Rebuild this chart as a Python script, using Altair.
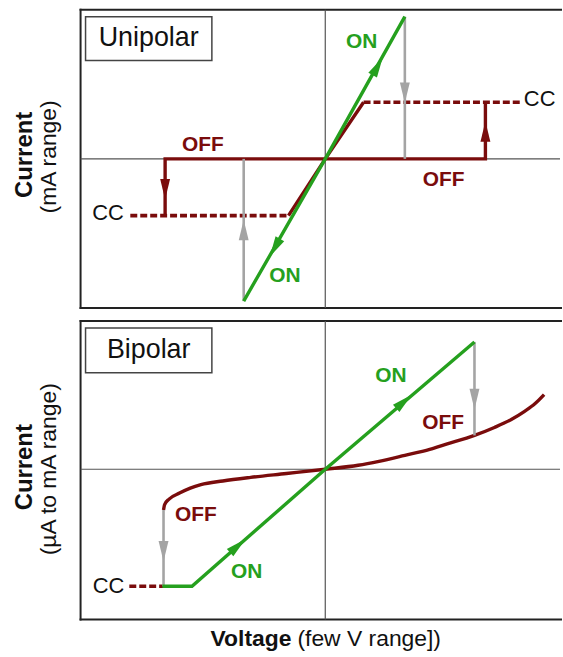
import altair as alt
import pandas as pd

# ---------------- data (schematic units: V on x, current on y) ----------------
X_DOMAIN = [-2.46, 2.36]
Y_DOMAIN_TOP = [-1.5, 1.5]
Y_DOMAIN_BOT = [-1.51, 1.49]

# Unipolar panel
uni_on_x = [-0.82, 0.0, 0.80]
uni_on_y = [-1.43, 0.0, 1.43]
uni_off_x = [-1.61, -1.61, 1.61, 1.61]
uni_off_y = [-0.57, 0.0, 0.0, 0.57]
uni_slant_x = [-0.37, 0.0, 0.385]
uni_slant_y = [-0.57, 0.0, 0.57]
uni_cc_hi_x = [0.385, 1.96]
uni_cc_lo_x = [-1.96, -0.37]
uni_cc_level = 0.57
uni_gray_x = [0.80, -0.82]
uni_gray_y_from = [1.43, -1.43]
uni_gray_y_to = [0.0, 0.0]
uni_arrow_x = [0.52, -0.50, -1.61, 1.61, 0.80, -0.82]
uni_arrow_y = [0.92, -0.88, -0.29, 0.26, 0.68, -0.73]
uni_arrow_dir = [29.5, 209.5, 180, 0, 180, 0]
uni_arrow_kind = ["on", "on", "off", "off", "gray", "gray"]
uni_label_text = ["ON", "ON", "OFF", "OFF", "CC", "CC"]
uni_label_x = [0.365, -0.405, -1.23, 1.19, -2.185, 2.155]
uni_label_y = [1.17, -1.18, 0.14, -0.21, -0.545, 0.60]
uni_label_kind = ["on", "on", "off", "off", "cc", "cc"]
uni_box = {"x1": -2.41, "x2": -1.14, "y1": 0.99, "y2": 1.43}
uni_name = "Unipolar"
uni_ytitle = ["Current", "(mA range)"]

# Bipolar panel
bi_on_x = [-1.637, -1.34, 0.0, 1.50]
bi_on_y = [-1.177, -1.177, 0.0, 1.28]
bi_off_x = [-1.626, -1.615, -1.57, -1.465, -1.357, -1.25, -1.03, -0.75, -0.39, 0.0,
            0.33, 0.54, 0.80, 1.05, 1.21, 1.50, 1.70, 1.87, 2.00, 2.11, 2.20]
bi_off_y = [-0.41, -0.355, -0.30, -0.24, -0.19, -0.155, -0.118, -0.082, -0.043, 0.0,
            0.04, 0.08, 0.14, 0.20, 0.25, 0.34, 0.42, 0.50, 0.58, 0.66, 0.75]
bi_cc_x = [-1.97, -1.626]
bi_cc_level = -1.177
bi_gray_x = [-1.626, 1.50]
bi_gray_y_from = [-0.41, 1.28]
bi_gray_y_to = [-1.177, 0.34]
bi_arrow_x = [0.78, -0.89, 1.50, -1.626]
bi_arrow_y = [0.67, -0.78, 0.72, -0.81]
bi_arrow_dir = [49, 49, 180, 180]
bi_arrow_kind = ["on", "on", "gray", "gray"]
bi_label_text = ["ON", "ON", "OFF", "OFF", "CC"]
bi_label_x = [0.66, -0.79, 1.185, -1.30, -2.18]
bi_label_y = [0.94, -1.03, 0.46, -0.46, -1.177]
bi_label_kind = ["on", "on", "off", "off", "cc"]
bi_box = {"x1": -2.41, "x2": -1.14, "y1": 0.97, "y2": 1.42}
bi_name = "Bipolar"
bi_ytitle = ["Current", "(\u00b5A to mA range)"]

xtitle = ["Voltage", "(few V range])"]

# ---------------- styles ----------------
FONT = "Liberation Sans"
GREEN = "#25a01e"
RED = "#7a0c0c"
GRAY = "#a4a4a4"
FRAME = "#222222"
KIND_COLOR = {"on": GREEN, "off": RED, "gray": GRAY, "cc": "#111111"}
ARROW = "M0,-1L0.42,0.75L-0.42,0.75Z"


def enc_x():
    return alt.X("x:Q", scale=alt.Scale(domain=X_DOMAIN, nice=False, zero=False), axis=None)


def enc_y(dom):
    return alt.Y("y:Q", scale=alt.Scale(domain=dom, nice=False, zero=False), axis=None)


def line_layer(xs, ys, color, width=3.2, dash=None, interp=None, ydom=None):
    df = pd.DataFrame({"x": xs, "y": ys, "o": list(range(len(xs)))})
    kw = dict(color=color, strokeWidth=width, strokeCap="butt", strokeJoin="miter")
    if dash is not None:
        kw["strokeDash"] = dash
    if interp is not None:
        kw["interpolate"] = interp
    return alt.Chart(df).mark_line(**kw).encode(x=enc_x(), y=enc_y(ydom), order="o:Q")


def vseg_layer(xs, y_from, y_to, color, width, ydom):
    df = pd.DataFrame({"x": xs, "y": y_from, "y2": y_to})
    return alt.Chart(df).mark_rule(color=color, strokeWidth=width).encode(
        x=enc_x(), y=enc_y(ydom), y2="y2:Q")


def panel(ydom, on_x, on_y, red_layers, gray_x, gray_from, gray_to,
          ax, ay, adir, akind, lt, lx, ly, lkind, box, name, ytitle, ytitle_y,
          top_anchor, with_xtitle):
    layers = []
    one = pd.DataFrame({"a": [0]})
    # anchor so both panels share the same left offset
    layers.append(alt.Chart(one).mark_rule(color="white", strokeWidth=1).encode(
        x=alt.value(-80), x2=alt.value(-79), y=alt.value(top_anchor), y2=alt.value(top_anchor)))
    # frame: left, top, bottom (right edge runs off the picture)
    layers.append(alt.Chart(one).mark_rule(color=FRAME, strokeWidth=2).encode(
        x=alt.value(0), y=alt.value(-1), y2=alt.value(301)))
    layers.append(alt.Chart(one).mark_rule(color=FRAME, strokeWidth=2).encode(
        x=alt.value(-1), x2=alt.value(484), y=alt.value(0)))
    layers.append(alt.Chart(one).mark_rule(color=FRAME, strokeWidth=2).encode(
        x=alt.value(-1), x2=alt.value(484), y=alt.value(300)))
    # axes through origin
    layers.append(alt.Chart(pd.DataFrame({"y": [0.0]})).mark_rule(color="#555555", strokeWidth=1.2)
                  .encode(y=enc_y(ydom)))
    layers.append(alt.Chart(pd.DataFrame({"x": [0.0]})).mark_rule(color="#555555", strokeWidth=1.2)
                  .encode(x=enc_x()))
    layers += red_layers
    layers.append(vseg_layer(gray_x, gray_from, gray_to, GRAY, 2.6, ydom))
    layers.append(line_layer(on_x, on_y, GREEN, 3.4, ydom=ydom))
    adf = pd.DataFrame({"x": ax, "y": ay, "ang": adir,
                        "c": [KIND_COLOR[k] for k in akind]})
    layers.append(alt.Chart(adf).mark_point(shape=ARROW, filled=True, size=560, opacity=1,
                                            strokeWidth=0)
                  .encode(x=enc_x(), y=enc_y(ydom), angle=alt.Angle("ang:Q", scale=None),
                          color=alt.Color("c:N", scale=None)))
    # labels
    ldf = pd.DataFrame({"t": lt, "x": lx, "y": ly, "k": lkind,
                        "c": [KIND_COLOR[k] for k in lkind]})
    bold = ldf[ldf.k != "cc"]
    reg = ldf[ldf.k == "cc"]
    layers.append(alt.Chart(bold).mark_text(font=FONT, fontSize=21, fontWeight="bold")
                  .encode(x=enc_x(), y=enc_y(ydom), text="t:N", color=alt.Color("c:N", scale=None)))
    layers.append(alt.Chart(reg).mark_text(font=FONT, fontSize=22)
                  .encode(x=enc_x(), y=enc_y(ydom), text="t:N", color=alt.Color("c:N", scale=None)))
    # name box
    bdf = pd.DataFrame({"x": [box["x1"]], "x2": [box["x2"]], "y": [box["y1"]], "y2": [box["y2"]]})
    layers.append(alt.Chart(bdf).mark_rect(fill="white", stroke="#444444", strokeWidth=1.5)
                  .encode(x=enc_x(), x2="x2:Q", y=enc_y(ydom), y2="y2:Q"))
    ndf = pd.DataFrame({"t": [name], "x": [(box["x1"] + box["x2"]) / 2],
                        "y": [(box["y1"] + box["y2"]) / 2]})
    layers.append(alt.Chart(ndf).mark_text(font=FONT, fontSize=27, color="#111111")
                  .encode(x=enc_x(), y=enc_y(ydom), text="t:N"))
    # y titles
    layers.append(alt.Chart(pd.DataFrame({"t": [ytitle[0]]}))
                  .mark_text(font=FONT, fontSize=24, fontWeight="bold", angle=270, color="#111111")
                  .encode(x=alt.value(-56), y=alt.value(ytitle_y), text="t:N"))
    layers.append(alt.Chart(pd.DataFrame({"t": [ytitle[1]]}))
                  .mark_text(font=FONT, fontSize=23, angle=270, color="#111111")
                  .encode(x=alt.value(-32), y=alt.value(ytitle_y + 2), text="t:N"))
    if with_xtitle:
        layers.append(alt.Chart(pd.DataFrame({"t": [xtitle[0]]}))
                      .mark_text(font=FONT, fontSize=23, fontWeight="bold", align="right",
                                 color="#111111")
                      .encode(x=alt.value(212), y=alt.value(320), text="t:N"))
        layers.append(alt.Chart(pd.DataFrame({"t": [xtitle[1]]}))
                      .mark_text(font=FONT, fontSize=23, align="left", color="#111111")
                      .encode(x=alt.value(218), y=alt.value(320), text="t:N"))
    return alt.layer(*layers).properties(width=482, height=300)


top_red = [
    line_layer(uni_off_x, uni_off_y, RED, 3.4, ydom=Y_DOMAIN_TOP),
    line_layer(uni_slant_x, uni_slant_y, RED, 3.4, ydom=Y_DOMAIN_TOP),
    line_layer(uni_cc_hi_x, [uni_cc_level] * 2, RED, 3.6, dash=[7, 3], ydom=Y_DOMAIN_TOP),
    line_layer(uni_cc_lo_x, [-uni_cc_level] * 2, RED, 3.6, dash=[7, 3], ydom=Y_DOMAIN_TOP),
]
bot_red = [
    line_layer(bi_off_x, bi_off_y, RED, 3.4, interp="monotone", ydom=Y_DOMAIN_BOT),
    line_layer(bi_cc_x, [bi_cc_level] * 2, RED, 3.6, dash=[7, 3], ydom=Y_DOMAIN_BOT),
]

top = panel(Y_DOMAIN_TOP, uni_on_x, uni_on_y, top_red, uni_gray_x, uni_gray_y_from, uni_gray_y_to,
            uni_arrow_x, uni_arrow_y, uni_arrow_dir, uni_arrow_kind,
            uni_label_text, uni_label_x, uni_label_y, uni_label_kind, uni_box, uni_name,
            uni_ytitle, 146, -7.5, False)
bottom = panel(Y_DOMAIN_BOT, bi_on_x, bi_on_y, bot_red, bi_gray_x, bi_gray_y_from, bi_gray_y_to,
               bi_arrow_x, bi_arrow_y, bi_arrow_dir, bi_arrow_kind,
               bi_label_text, bi_label_x, bi_label_y, bi_label_kind, bi_box, bi_name,
               bi_ytitle, 147, 150, True)

chart = alt.vconcat(top, bottom, spacing=9).properties(padding=0, background="white").configure_view(
    stroke=None, fill="white")

chart.save("out.html", embed_options={"renderer": "svg", "actions": False})
